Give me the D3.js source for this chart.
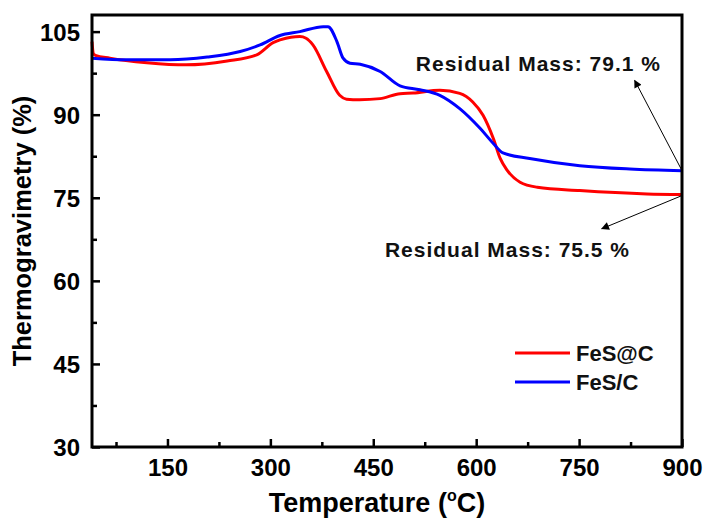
<!DOCTYPE html>
<html><head><meta charset="utf-8">
<script src="https://cdn.jsdelivr.net/npm/d3@7"></script>
<style>body{margin:0;background:#fff}svg{display:block}text{font-family:"Liberation Sans",Arial,sans-serif}</style>
</head><body>
<svg id="chart" width="708" height="523"></svg>
<script>
const xTicks = [150, 300, 450, 600, 750, 900];
const xMinorTicks = [75, 225, 375, 525, 675, 825];
const yTicks = [30, 45, 60, 75, 90, 105];
const yMinorTicks = [37.5, 52.5, 67.5, 82.5, 97.5];

const redTemp = [40, 42, 45, 66, 120, 177, 237, 280, 304, 314, 330, 343, 352, 362, 382, 401, 411, 430, 460, 489, 508, 547, 576, 595, 610, 625, 635, 645, 664, 689, 751, 849, 900];
const redMass = [103.2, 101.0, 100.7, 100.2, 99.4, 99.0, 99.7, 100.8, 103.0, 103.5, 104.0, 104.1, 103.8, 102.6, 97.8, 93.5, 92.8, 92.7, 92.9, 93.8, 93.9, 94.4, 93.85, 92.3, 89.9, 85.7, 82.1, 80.0, 77.8, 76.9, 76.3, 75.7, 75.6];
const blueTemp = [40, 91, 154, 208, 256, 285, 314, 343, 377, 384, 397, 406, 416, 431, 460, 489, 518, 547, 576, 606, 625, 639, 678, 751, 824, 900];
const blueMass = [100.2, 99.9, 99.9, 100.4, 101.4, 102.6, 104.3, 105.0, 105.9, 105.9, 103.2, 100.2, 99.3, 99.1, 97.8, 95.2, 94.5, 93.5, 91.1, 87.5, 84.8, 83.1, 82.1, 80.8, 80.2, 79.9];

const seriesNames = ["FeS@C", "FeS/C"];
const seriesColors = ["#ff0000", "#0000ff"];

const annTexts = ["Residual Mass: 79.1 %", "Residual Mass: 75.5 %"];
const annTextPos = [[512, 97.8], [467, 64.3]];
const annArrowFrom = [[900, 79.9], [900, 75.4]];
const annArrowTo = [[831, 96.2], [783, 69.4]];

const svg = d3.select("#chart");
const m = {left: 92, top: 15, right: 26, bottom: 76};
const W = 708, H = 523;
const x = d3.scaleLinear().domain([40, 900]).range([m.left, W - m.right]);
const y = d3.scaleLinear().domain([30, 108]).range([H - m.bottom, m.top]);

svg.append("defs").append("marker")
  .attr("id", "ah").attr("viewBox", "0 0 10 10").attr("refX", 9).attr("refY", 5)
  .attr("markerWidth", 13).attr("markerHeight", 8).attr("markerUnits", "userSpaceOnUse")
  .attr("orient", "auto")
  .append("path").attr("d", "M0,0 L10,5 L0,10 z").attr("fill", "#000");

// curves
const line = d3.line().x(d => x(d[0])).y(d => y(d[1])).curve(d3.curveMonotoneX);
const redData = redTemp.map((t, i) => [t, redMass[i]]);
const blueData = blueTemp.map((t, i) => [t, blueMass[i]]);
const g = svg.append("g");
g.append("path").datum(redData).attr("d", line).attr("fill", "none").attr("stroke", seriesColors[0]).attr("stroke-width", 3);
g.append("path").datum(blueData).attr("d", line).attr("fill", "none").attr("stroke", seriesColors[1]).attr("stroke-width", 3);

// axes
const xAxis = svg.append("g").attr("transform", `translate(0,${y(30)})`)
  .call(d3.axisBottom(x).tickValues(xTicks).tickSizeInner(-8).tickSizeOuter(0).tickPadding(12));
const xMinor = svg.append("g").attr("transform", `translate(0,${y(30)})`)
  .call(d3.axisBottom(x).tickValues(xMinorTicks).tickSizeInner(-5).tickSizeOuter(0).tickFormat(""));
const yAxis = svg.append("g").attr("transform", `translate(${x(40)},0)`)
  .call(d3.axisLeft(y).tickValues(yTicks).tickSizeInner(-8).tickSizeOuter(0).tickPadding(12));
const yMinor = svg.append("g").attr("transform", `translate(${x(40)},0)`)
  .call(d3.axisLeft(y).tickValues(yMinorTicks).tickSizeInner(-5).tickSizeOuter(0).tickFormat(""));
[xAxis, xMinor, yAxis, yMinor].forEach(a => {
  a.select(".domain").remove();
  a.selectAll(".tick line").attr("stroke", "#000").attr("stroke-width", 2.5);
  a.selectAll(".tick text").attr("fill", "#000").style("font-size", "24px").style("font-weight", "bold").style("font-family", "'Liberation Sans', Arial, sans-serif");
});
yAxis.selectAll(".tick text").attr("dy", "0.36em");

// frame
svg.append("rect").attr("x", x(40)).attr("y", y(108)).attr("width", x(900) - x(40)).attr("height", y(30) - y(108))
  .attr("fill", "none").attr("stroke", "#000").attr("stroke-width", 3);

// axis titles
const xt = svg.append("text").attr("x", 377).attr("y", 512).attr("text-anchor", "middle")
  .style("font-size", "27px").style("font-weight", "bold");
xt.append("tspan").text("Temperature (");
xt.append("tspan").text("o").style("font-size", "16px").attr("dy", -11);
xt.append("tspan").text("C)").attr("dy", 11);

svg.append("text").attr("transform", `translate(31,${(y(30) + y(108)) / 2}) rotate(-90)`)
  .attr("text-anchor", "middle").style("font-size", "25.5px").style("font-weight", "bold")
  .text("Thermogravimetry (%)");

// annotations
annTexts.forEach((t, i) => {
  svg.append("text").attr("x", x(annTextPos[i][0])).attr("y", y(annTextPos[i][1]))
    .style("font-size", "21px").style("font-weight", "bold").style("letter-spacing", "1px").attr("fill", "#111")
    .text(t);
  svg.append("line").attr("x1", x(annArrowFrom[i][0])).attr("y1", y(annArrowFrom[i][1]))
    .attr("x2", x(annArrowTo[i][0])).attr("y2", y(annArrowTo[i][1]))
    .attr("stroke", "#000").attr("stroke-width", 1).attr("marker-end", "url(#ah)");
});

// legend
seriesNames.forEach((n, i) => {
  const ly = 353 + i * 29;
  svg.append("line").attr("x1", 515).attr("x2", 570).attr("y1", ly).attr("y2", ly)
    .attr("stroke", seriesColors[i]).attr("stroke-width", 3);
  svg.append("text").attr("x", 576).attr("y", ly + 8).style("font-size", "22px").style("font-weight", "bold").attr("fill", "#111").text(n);
});
</script>
</body></html>
